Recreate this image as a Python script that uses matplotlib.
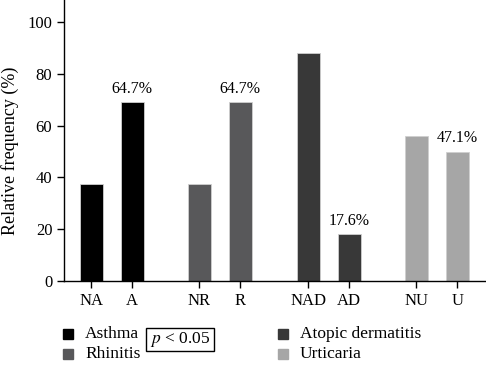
import matplotlib.pyplot as plt
from matplotlib.patches import Rectangle

plt.rcParams['font.family'] = ['Liberation Serif', 'DejaVu Serif']
plt.rcParams['font.size'] = 12
plt.rcParams['mathtext.fontset'] = 'stix'

# data
labels = ['NA', 'A', 'NR', 'R', 'NAD', 'AD', 'NU', 'U']
values = [37.5, 69, 37.5, 69, 88.2, 18.2, 56, 50]
annot = ['', '64.7%', '', '64.7%', '', '17.6%', '', '47.1%']
groups = ['Asthma', 'Rhinitis', 'Atopic dermatitis', 'Urticaria']
colors = ['#000000', '#58585a', '#383838', '#a6a6a6']

xpos = [0, 1, 2.63, 3.63, 5.29, 6.29, 7.93, 8.93]
bar_colors = [c for c in colors for _ in range(2)]

fig = plt.figure(figsize=(4.86, 3.66), dpi=100)
ax = fig.add_axes([0.132, 0.232, 0.868, 0.768])

ax.bar(xpos, values, width=0.56, color=bar_colors, edgecolor='#cfcfcf', linewidth=0.6)
for x, v, t in zip(xpos, values, annot):
    if t:
        ax.text(x, v + 2, t, ha='center', va='bottom', fontsize=11.5)

ax.set_xlim(-0.66, 9.63)
ax.set_ylim(0, 108.5)
ax.set_yticks([0, 20, 40, 60, 80, 100])
ax.set_xticks(xpos)
ax.set_xticklabels(labels)
ax.set_ylabel('Relative frequency (%)', fontsize=13)
ax.yaxis.set_label_coords(-0.107, 0.465)
for s in ['top', 'right']:
    ax.spines[s].set_visible(False)
ax.spines['left'].set_linewidth(1.0)
ax.spines['bottom'].set_linewidth(1.0)
ax.tick_params(direction='out', length=5, width=1.0)

# legend drawn by hand
W, H = 486, 366
serif = ['Liberation Serif', 'DejaVu Serif']
legend_pos = [(63, 334), (63, 354), (278, 334), (278, 354)]
for (px, py), g, c in zip(legend_pos, groups, colors):
    fig.add_artist(Rectangle((px / W, 1 - (py + 5) / H), 10 / W, 10 / H,
                             transform=fig.transFigure, color=c))
    fig.text((px + 22) / W, 1 - py / H, g, va='center', ha='left',
             fontsize=12.5, family=serif)

fig.add_artist(Rectangle((146 / W, 1 - 351 / H), 68 / W, 23 / H,
                         transform=fig.transFigure, fill=False,
                         edgecolor='black', linewidth=1.0))
fig.text(180 / W, 1 - 339.5 / H, r'$p$ < 0.05', ha='center', va='center',
         fontsize=12.5, family=serif)

fig.savefig('out.png', dpi=100)
